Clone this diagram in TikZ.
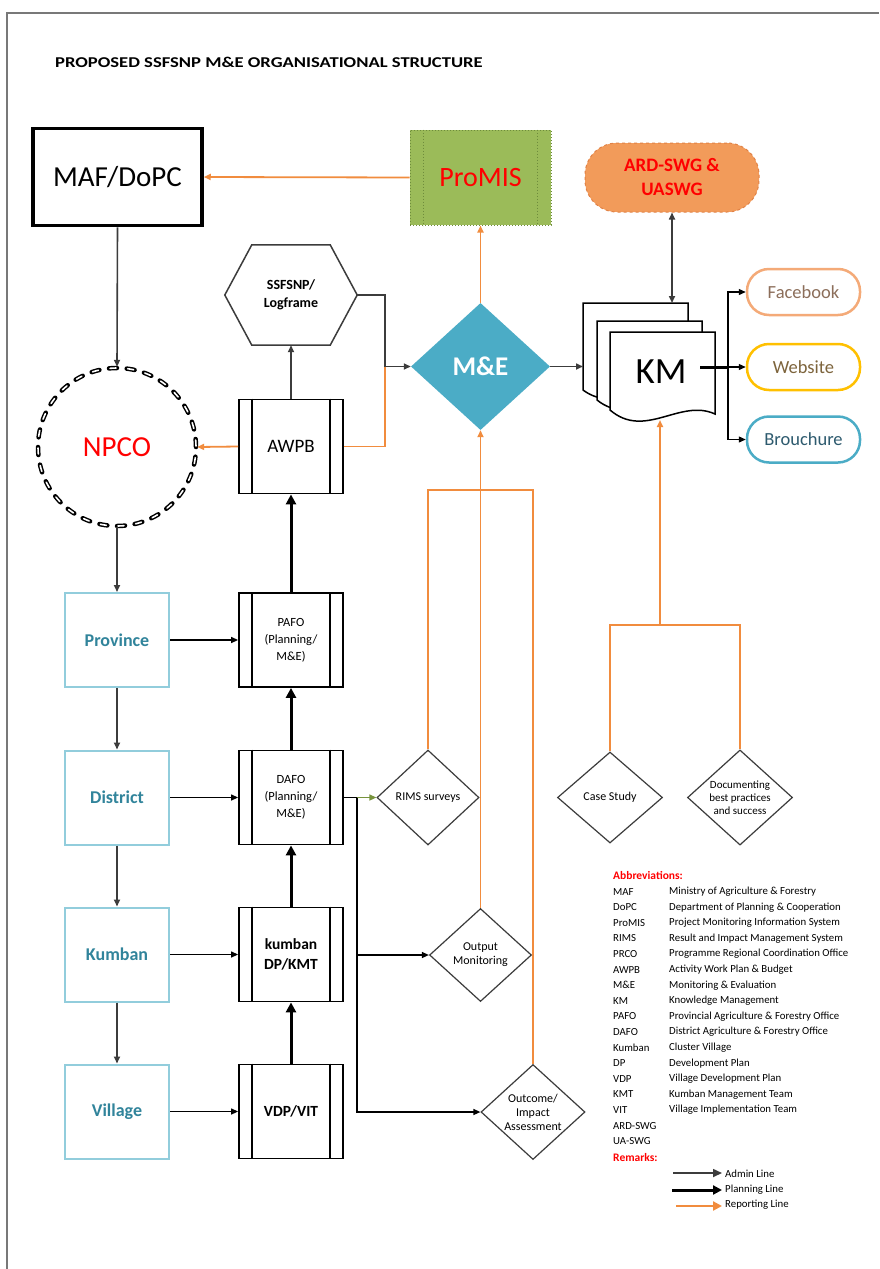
\documentclass[tikz,border=0pt]{standalone}
\usepackage{fontspec}
\setmainfont{Carlito}
\usetikzlibrary{arrows.meta,shapes.geometric,calc}

\definecolor{rep}{RGB}{241,140,62}
\definecolor{adm}{RGB}{60,60,60}
\definecolor{promisfill}{RGB}{155,187,89}
\definecolor{promisedge}{RGB}{110,140,60}
\definecolor{ardfill}{RGB}{242,155,90}
\definecolor{ardedge}{RGB}{225,130,70}
\definecolor{meblue}{RGB}{75,172,198}
\definecolor{lvlblue}{RGB}{146,205,220}
\definecolor{lvltext}{RGB}{49,132,155}
\definecolor{fbedge}{RGB}{244,170,120}
\definecolor{webedge}{RGB}{255,192,0}
\definecolor{fbtext}{RGB}{140,110,90}
\definecolor{webtext}{RGB}{125,100,60}
\definecolor{brtext}{RGB}{45,90,110}
\definecolor{rimsgreen}{RGB}{119,147,60}
\definecolor{pagegray}{RGB}{120,120,120}

\tikzset{
  tip/.style={-{Triangle[length=7pt,width=6pt]}},
  admin/.style={draw=adm, line width=1.6pt, tip},
  plan/.style={draw=black, line width=3pt, -{Triangle[length=10pt,width=10pt]}},
  report/.style={draw=rep, line width=1.8pt, tip},
  thinline/.style={draw=black, line width=1.3pt, tip},
  lvl/.style={draw=lvlblue, line width=2pt, minimum width=104pt, minimum height=94pt,
    inner sep=0, font=\fontsize{18}{20}\selectfont\bfseries, text=lvltext},
  proc/.style={draw=black, line width=1.8pt, minimum width=104pt, minimum height=94pt,
    inner sep=0, align=center},
  dia/.style={diamond, draw=adm, line width=1.2pt, inner sep=0, align=center,
    font=\fontsize{12}{14}\selectfont},
  outlet/.style={draw, rounded corners=22pt, line width=2.5pt, minimum width=113pt,
    minimum height=46pt, inner sep=0, font=\fontsize{18.5}{20}\selectfont},
  abbr/.style={anchor=west, inner sep=0, font=\fontsize{10.8}{12}\selectfont},
  abhead/.style={anchor=west, inner sep=0, text=red, font=\fontsize{11.5}{13}\selectfont\bfseries},
  docpage/.style={draw=black, fill=white, line width=1.5pt}
}

\begin{document}
\begin{tikzpicture}[x=1pt,y=-1pt]
\useasboundingbox (0,0) rectangle (879,1269);
\fill[white] (0,0) rectangle (879,1269);

% page edge
\draw[pagegray, line width=1.5pt] (7,1269) -- (7,13) -- (879,13);

% title
\node[anchor=west, inner sep=0, font=\fontsize{15}{17}\selectfont\bfseries] (title) at (55,62)
  {\scalebox{1.24}[1]{PROPOSED SSFSNP M\&E ORGANISATIONAL STRUCTURE}};

% ---------- top row ----------
\node[draw=black, line width=3.5pt, minimum width=169pt, minimum height=97pt, inner sep=0,
  font=\fontsize{29}{31}\selectfont] (maf) at (117.5,177) {MAF/DoPC};

\node[fill=promisfill, draw=promisedge, dotted, line width=1pt, minimum width=141pt,
  minimum height=95pt, inner sep=0, text=red, font=\fontsize{28}{30}\selectfont] (promis)
  at (480.5,177.5) {ProMIS};
\draw[promisedge, dotted, line width=1pt]
  ([xshift=14pt]promis.north west) -- ([xshift=14pt]promis.south west)
  ([xshift=-14pt]promis.north east) -- ([xshift=-14pt]promis.south east);

\node[fill=ardfill, draw=ardedge, dashed, line width=1pt, rounded corners=32pt,
  minimum width=174pt, minimum height=69pt, inner sep=0, align=center, text=red,
  font=\fontsize{19}{24}\selectfont\bfseries] (ard) at (672,177.5) {ARD-SWG \&\\UASWG};

% ---------- logframe hexagon ----------
\node[minimum width=132pt, minimum height=100pt, inner sep=0, align=center,
  font=\fontsize{14}{18}\selectfont\bfseries] (hex) at (291,295) {SSFSNP/\\Logframe};
\draw[adm, line width=1.5pt] (hex.west) -- ([xshift=27pt]hex.north west)
  -- ([xshift=-27pt]hex.north east) -- (hex.east) -- ([xshift=-27pt]hex.south east)
  -- ([xshift=27pt]hex.south west) -- cycle;

% ---------- M&E ----------
\node[diamond, fill=meblue, minimum width=139pt, minimum height=127pt, inner sep=0,
  text=white, font=\fontsize{27}{29}\selectfont\bfseries] (me) at (480.5,366.5) {M\&E};

% ---------- KM stack ----------
\draw[docpage] (583,390) -- (583,303) -- (688,303) -- (688,390)
  .. controls (653,374) and (618,416) .. cycle;
\draw[docpage] (597,400) -- (597,321) -- (702,321) -- (702,402)
  .. controls (667,386) and (632,428) .. cycle;
\draw[docpage] (610,410) -- (610,332) -- (715,332) -- (715,414)
  .. controls (680,398) and (645,440) .. cycle;
\node[inner sep=0, font=\fontsize{37}{39}\selectfont] (km) at (661,372) {KM};
\coordinate (kmin) at (583,366.5);
\coordinate (kmtop) at (672,303);
\coordinate (kmbot) at (660,420);
\coordinate (kmout) at (700,367);
\coordinate (bus) at (728,367);

% ---------- outlets ----------
\node[outlet, draw=fbedge, text=fbtext] (fb) at (803.5,292) {Facebook};
\node[outlet, draw=webedge, text=webtext] (web) at (803.5,367) {Website};
\node[outlet, draw=meblue, text=brtext] (brou) at (803.5,439.5) {Brouchure};

% ---------- NPCO ----------
\node[circle, minimum size=160pt, inner sep=0, text=red,
  font=\fontsize{29}{31}\selectfont] (npco) at (117,447) {NPCO};
\draw[black, line width=4.5pt, dash pattern=on 8pt off 9.73pt, line cap=round]
  (npco.center) circle[radius=79pt];
\draw[white, line width=1.6pt, dash pattern=on 6pt off 11.73pt, dash phase=-1pt, line cap=round]
  (npco.center) circle[radius=79pt];

% ---------- administrative levels ----------
\node[lvl] (prov) at (117,640) {Province};
\node[lvl] (dist) at (117,797.5) {District};
\node[lvl] (kum)  at (117,954.5) {Kumban};
\node[lvl] (vil)  at (117,1111.5) {Village};

% ---------- planning boxes ----------
\node[proc, font=\fontsize{19}{21}\selectfont] (awpb) at (291,446.5) {AWPB};
\node[proc, font=\fontsize{12.5}{17}\selectfont] (pafo) at (291,640) {PAFO\\(Planning/\\M\&E)};
\node[proc, font=\fontsize{12.5}{17}\selectfont] (dafo) at (291,797.5) {DAFO\\(Planning/\\M\&E)};
\node[proc, font=\fontsize{15.5}{20}\selectfont\bfseries] (kdp) at (291,954.5) {kumban\\DP/KMT};
\node[proc, font=\fontsize{15.5}{20}\selectfont\bfseries] (vdpb) at (291,1111.5) {VDP/VIT};
\foreach \n in {awpb,pafo,dafo,kdp,vdpb}
  \draw[line width=1.5pt] ([xshift=14pt]\n.north west) -- ([xshift=14pt]\n.south west)
    ([xshift=-14pt]\n.north east) -- ([xshift=-14pt]\n.south east);

% ---------- data collection diamonds ----------
\node[dia, minimum width=102pt, minimum height=95pt] (rims) at (428,797.5) {RIMS surveys};
\node[dia, minimum width=102pt, minimum height=93pt] (outm) at (480.5,955) {Output\\Monitoring};
\node[dia, minimum width=104pt, minimum height=95pt] (outc) at (533,1112) {Outcome/\\Impact\\Assessment};
\node[dia, minimum width=105pt, minimum height=91pt] (case) at (610,797.5) {Case Study};
\node[dia, minimum width=105pt, minimum height=91pt, font=\fontsize{11}{13}\selectfont] (doc)
  at (740,797.5) {Documenting\\best practices\\and success};

% ---------- connectors: top ----------
\draw[report] (promis.west) -- (maf.east);
\draw[admin] (maf.south) -- (npco.north);
\draw[report] (me.north) -- (promis.south);
\coordinate (mej) at (385,366.5);
\draw[report, -] (awpb.east) -| (mej);
\draw[admin] (hex.east) -| (mej) -- (me.west);
\draw[report] (awpb.west) -- (npco.east);
\draw[admin] (awpb.north) -- (hex.south);
\draw[admin] (me.east) -- (kmin);
\draw[admin, {Triangle[length=7pt,width=6pt]}-{Triangle[length=7pt,width=6pt]}] (ard.south) -- (kmtop);
\draw[line width=3pt] (kmout) -- (bus);
\draw[thinline] (bus) |- (fb.west);
\draw[thinline] (bus) -- (web.west);
\draw[thinline] (bus) |- (brou.west);

% ---------- connectors: levels ----------
\draw[admin] (npco.south) -- (prov.north);
\draw[admin] (prov.south) -- (dist.north);
\draw[admin] (dist.south) -- (kum.north);
\draw[admin] (kum.south) -- (vil.north);
\draw[thinline] (prov.east) -- (pafo.west);
\draw[thinline] (dist.east) -- (dafo.west);
\draw[thinline] (kum.east) -- (kdp.west);
\draw[thinline] (vil.east) -- (vdpb.west);
\draw[plan] (vdpb.north) -- (kdp.south);
\draw[plan] (kdp.north) -- (dafo.south);
\draw[plan] (dafo.north) -- (pafo.south);
\draw[plan] (pafo.north) -- (awpb.south);

% ---------- connectors: monitoring ----------
\coordinate (dj) at (357,797.5);
\draw[line width=1.3pt] (dafo.east) -- (dj);
\draw[rimsgreen, line width=1.3pt, tip] (dj) -- (rims.west);
\draw[thinline] (dj) |- (outm.west);
\draw[thinline] (dj) |- (outc.west);
\coordinate (ob) at (480.5,490);
\draw[report, -] (rims.north) |- (ob) -| (outc.north);
\draw[report] (outm.north) -- (me.south);
\coordinate (cb) at (660,625);
\draw[report, -] (case.north) |- (cb) -| (doc.north);
\draw[report] (cb) -- (kmbot);

% ---------- abbreviations ----------
\node[abhead] (abh) at (613,875) {Abbreviations:};
\foreach \k/\a/\d [count=\i] in {
  maf/MAF/Ministry of Agriculture \& Forestry,
  dopc/DoPC/Department of Planning \& Cooperation,
  promis/ProMIS/Project Monitoring Information System,
  rims/RIMS/Result and Impact Management System,
  prco/PRCO/Programme Regional Coordination Office,
  awpb/AWPB/Activity Work Plan \& Budget,
  me/M\&E/Monitoring \& Evaluation,
  km/KM/Knowledge Management,
  pafo/PAFO/Provincial Agriculture \& Forestry Office,
  dafo/DAFO/District Agriculture \& Forestry Office,
  kumban/Kumban/Cluster Village,
  dp/DP/Development Plan,
  vdp/VDP/Village Development Plan,
  kmt/KMT/Kumban Management Team,
  vit/VIT/Village Implementation Team,
  ardswg/ARD-SWG/{},
  uaswg/UA-SWG/{}}
{
  \node[abbr] (ab-\k) at (613,{876+15.6*\i}) {\a};
  \node[abbr] (ad-\k) at (669,{876+15.6*\i}) {\d};
}
\node[abhead] (rem) at (613,1157) {Remarks:};

% ---------- line legend ----------
\coordinate (la0) at (673,1173); \coordinate (la1) at (722,1173);
\coordinate (lp0) at (672,1190); \coordinate (lp1) at (722,1190);
\coordinate (lr0) at (676,1206); \coordinate (lr1) at (722,1206);
\draw[admin, -{Triangle[length=9pt,width=8pt]}] (la0) -- (la1);
\draw[plan, -{Triangle[length=9pt,width=9pt]}] (lp0) -- (lp1);
\draw[report, line width=2.2pt, -{Triangle[length=9pt,width=9pt]}] (lr0) -- (lr1);
\node[abbr] (lla) at (725,1174) {Admin Line};
\node[abbr] (llp) at (725,1190) {Planning Line};
\node[abbr] (llr) at (725,1205) {Reporting Line};

\end{tikzpicture}
\end{document}
